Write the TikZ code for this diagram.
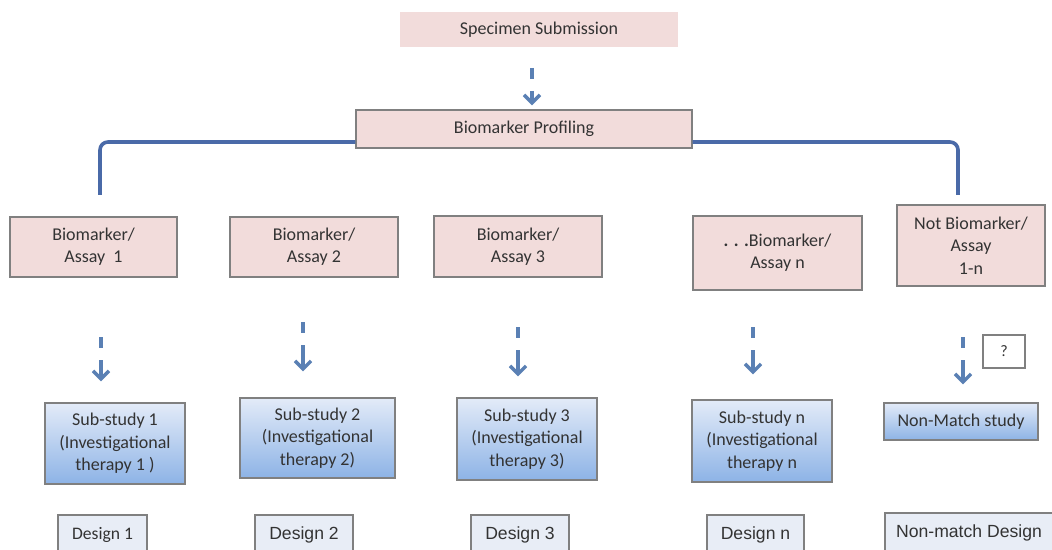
\documentclass[tikz,border=0pt]{standalone}
\usepackage{fontspec}
\setmainfont{Carlito}
\newfontfamily\arialfont{Liberation Sans}
\usetikzlibrary{arrows.meta}

\definecolor{pinkfill}{HTML}{F2DCDB}
\definecolor{boxline}{HTML}{808080}
\definecolor{studytop}{HTML}{E3EBF8}
\definecolor{studybot}{HTML}{8DB3E6}
\definecolor{designfill}{HTML}{E8EDF6}
\definecolor{flowblue}{HTML}{5A80B4}
\definecolor{bracketblue}{HTML}{4A6AA8}
\definecolor{textgrey}{HTML}{333333}

\tikzset{
  box/.style={draw=boxline, line width=0.7pt, align=center, text=textgrey,
    font=\fontsize{9}{11.2}\selectfont, inner sep=1pt},
  pinkbox/.style={box, fill=pinkfill},
  studybox/.style={box, top color=studytop, bottom color=studybot},
  designbox/.style={box, fill=designfill, minimum height=20pt, font=\arialfont\fontsize{8.8}{10}\selectfont},
  qbox/.style={box, fill=white, font=\fontsize{8}{10}\selectfont},
  flow/.style={draw=flowblue, line width=1.7pt, dash pattern=on 5.5pt off 6pt on 30pt off 0pt,
    -{Straight Barb[length=4pt,width=8pt]}},
  bracket/.style={draw=bracketblue, line width=1.8pt, rounded corners=4pt}
}

\begin{document}
\begin{tikzpicture}[x=0.5pt, y=-0.5pt]
  \useasboundingbox (0,0) rectangle (1052,550);

  % Nodes
  \node[pinkbox, draw=none, minimum width=139pt, minimum height=17.5pt] (spec) at (539,29.5) {Specimen Submission};
  \node[pinkbox, minimum width=168pt, minimum height=19pt] (prof) at (524,129) {Biomarker Profiling};

  \node[pinkbox, minimum width=83.5pt, minimum height=30pt] (bm1) at (93.5,247) {Biomarker/\\Assay\ \ 1};
  \node[pinkbox, minimum width=84pt, minimum height=30pt] (bm2) at (314,247) {Biomarker/\\Assay 2};
  \node[pinkbox, minimum width=84pt, minimum height=30.5pt] (bm3) at (518,246.5) {Biomarker/\\Assay 3};
  \node[pinkbox, minimum width=84.5pt, minimum height=37pt] (bmn) at (777.5,253) {\textbf{. . .}Biomarker/\\Assay n};
  \node[pinkbox, minimum width=74pt, minimum height=40.5pt] (nobm) at (971,245.5) {Not Biomarker/\\Assay\\1-n};

  \node[qbox, minimum width=21pt, minimum height=16.5pt] (quest) at (1004,351.5) {?};

  \node[studybox, minimum width=70pt, minimum height=40.5pt] (sub1) at (115,443.5) {Sub-study 1\\(Investigational\\therapy 1 )};
  \node[studybox, minimum width=77.5pt, minimum height=40pt] (sub2) at (317.5,438) {Sub-study 2\\(Investigational\\therapy 2)};
  \node[studybox, minimum width=70pt, minimum height=41pt] (sub3) at (527,439) {Sub-study 3\\(Investigational\\therapy 3)};
  \node[studybox, minimum width=70pt, minimum height=41pt] (subn) at (762,441) {Sub-study n\\(Investigational\\therapy n};
  \node[studybox, minimum width=77pt, minimum height=18.5pt] (nonm) at (961,421.5) {Non-Match study};

  \node[designbox, minimum width=44.5pt, font=\fontsize{8.8}{10}\selectfont] (des1) at (102.5,535) {Design 1};
  \node[designbox, minimum width=49pt] (des2) at (304,535) {Design 2};
  \node[designbox, minimum width=49pt] (des3) at (520,535) {Design 3};
  \node[designbox, minimum width=48.5pt] (desn) at (755.5,535) {Design n};
  \node[designbox, minimum width=84pt] (nmdes) at (969,533) {Non-match Design};

  % Bracket
  \coordinate (brl) at (100,195);
  \coordinate (brr) at (958,195);
  \draw[bracket] (brl) |- ([yshift=-6.5pt]prof.west);
  \draw[bracket] (brr) |- ([yshift=-6.5pt]prof.east);

  % Arrows
  \coordinate (a0) at (532,68);
  \coordinate (a1) at (101,337);
  \coordinate (a2) at (303,322);
  \coordinate (a3) at (518,327);
  \coordinate (a4) at (753,327);
  \coordinate (a5) at (963,337);
  \draw[flow, shorten >=2pt] (a0) -- (a0 |- prof.north);
  \draw[flow, shorten >=10.5pt] (a1) -- (a1 |- sub1.north);
  \draw[flow, shorten >=13pt] (a2) -- (a2 |- sub2.north);
  \draw[flow, shorten >=10.5pt] (a3) -- (a3 |- sub3.north);
  \draw[flow, shorten >=12.5pt] (a4) -- (a4 |- subn.north);
  \draw[flow, shorten >=9pt] (a5) -- (a5 |- nonm.north);
\end{tikzpicture}
\end{document}
